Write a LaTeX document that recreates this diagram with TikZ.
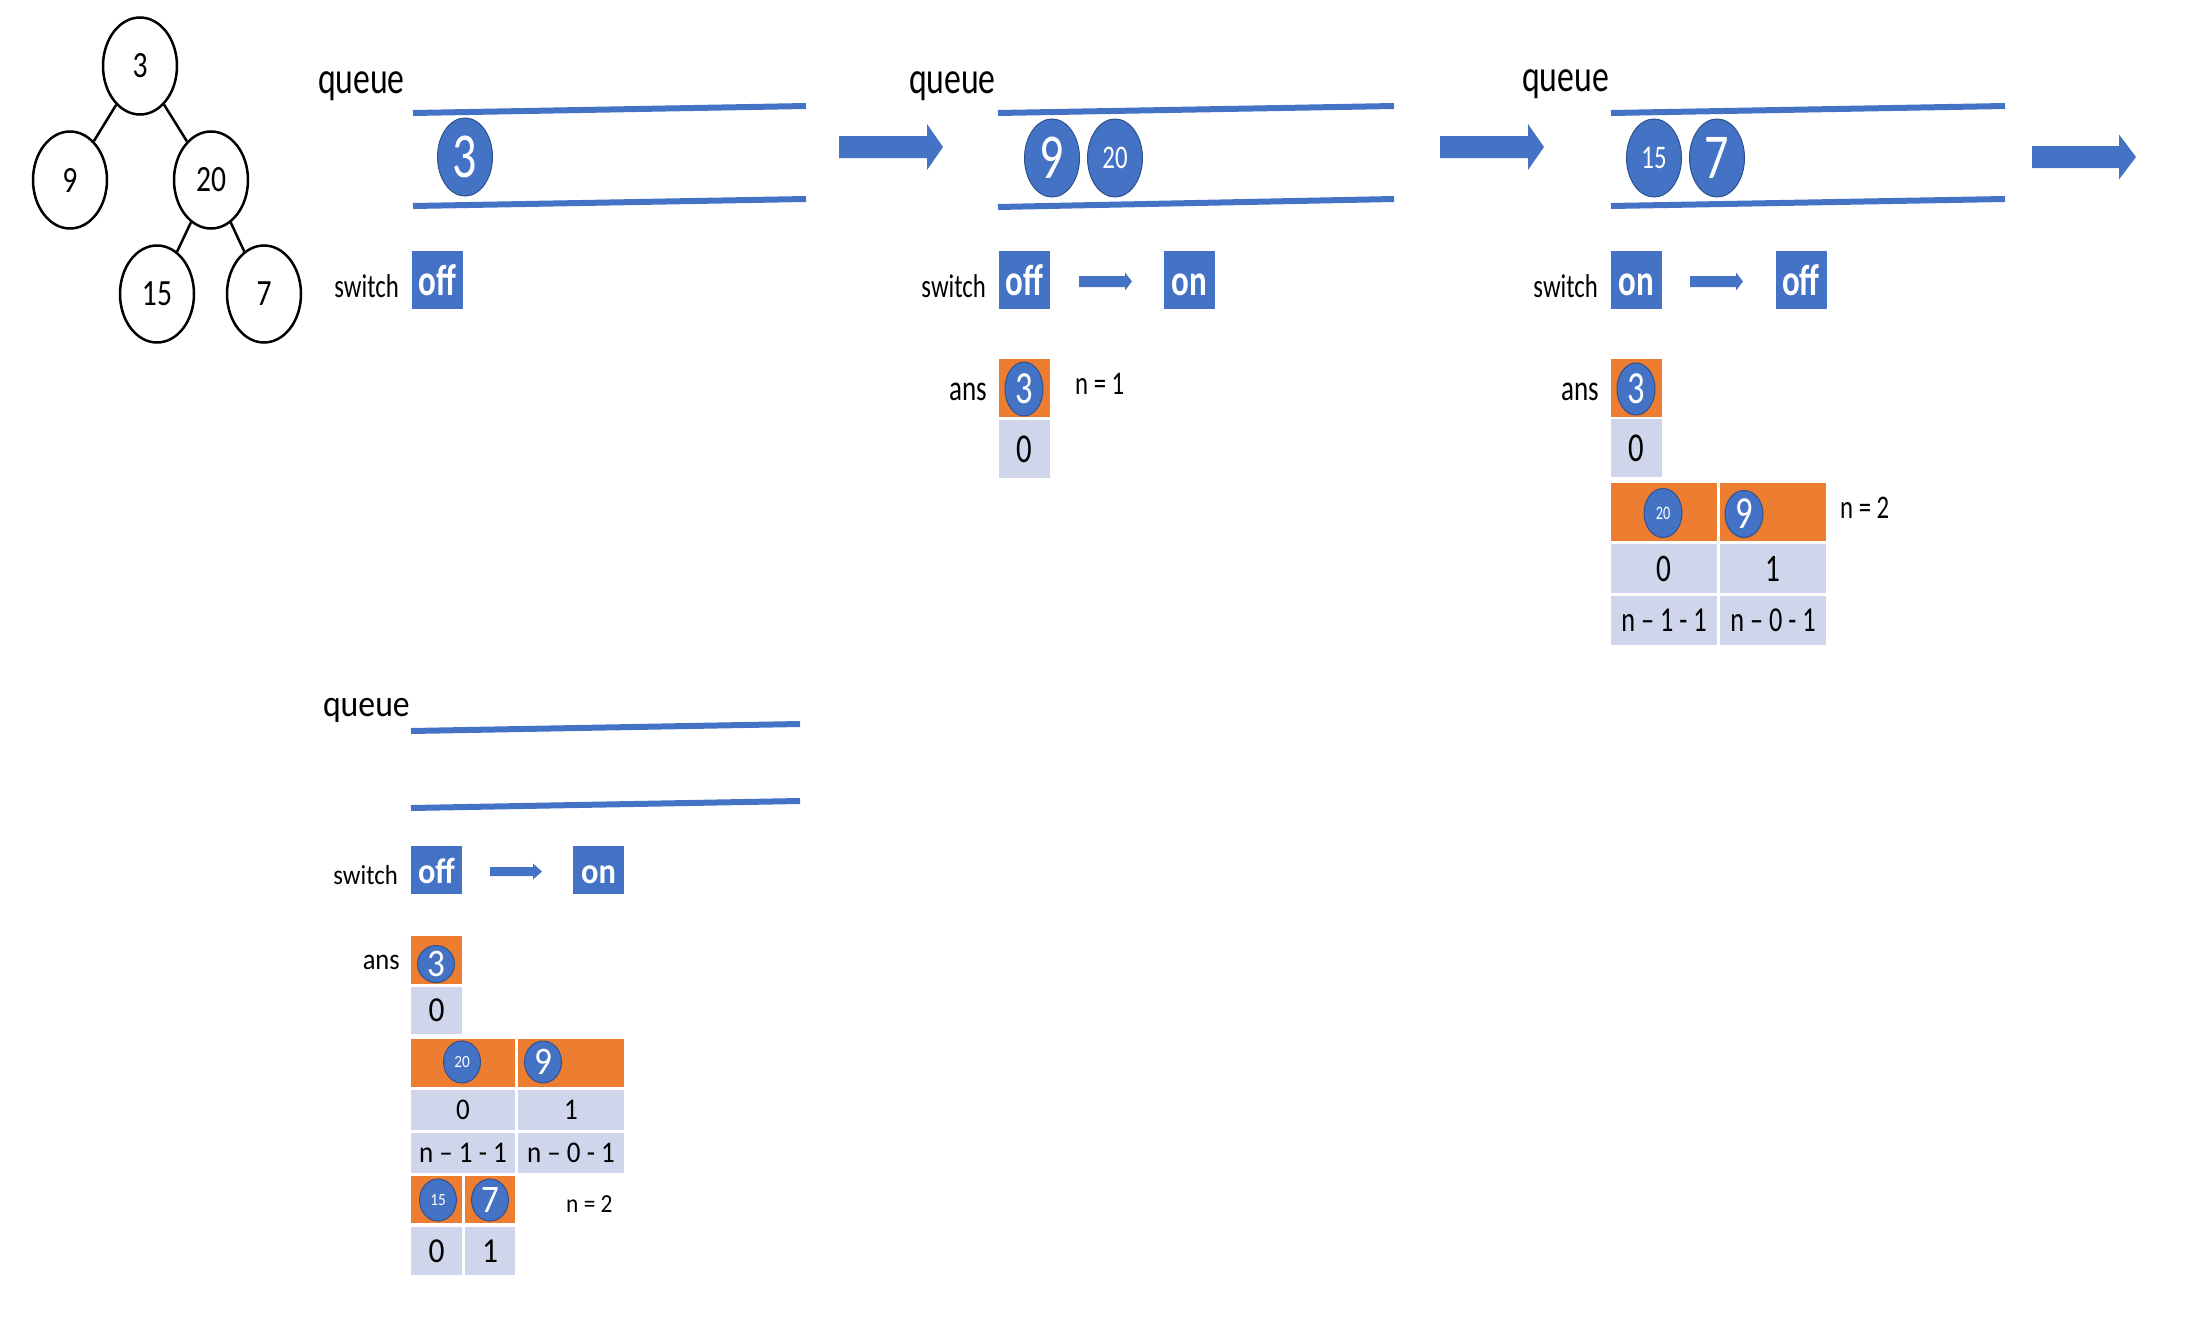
\documentclass[tikz,border=0pt]{standalone}
\usepackage{fontspec}
\setmainfont{Carlito}
\newfontfamily\topfam[FakeStretch=0.75]{Carlito}
\newfontfamily\lowfam[FakeStretch=0.9]{Carlito}
\newfontfamily\treefam[FakeStretch=0.8]{Carlito}
\newcommand\topsz[1]{\topfam\fontsize{#1}{#1}\selectfont}
\newcommand\lowsz[1]{\lowfam\fontsize{#1}{#1}\selectfont}
\usetikzlibrary{shapes.geometric}
\definecolor{qblue}{HTML}{4472C4}
\definecolor{qorange}{HTML}{ED7D31}
\definecolor{qcell}{HTML}{CFD5EA}
\definecolor{qedge}{HTML}{2F528F}
% block arrow: start coordinate, shaft length, shaft half thickness, head length, head half width
\newcommand\fatarrow[5]{%
  \fill[qblue] (#1) ++(0,-#3) -- ++(#2,0) -- ++(0,{-(#5-#3)}) -- ++(#4,#5)
    -- ++(-#4,#5) -- ++(0,{-(#5-#3)}) -- ++(-#2,0) -- cycle;}
\begin{document}
\begin{tikzpicture}[x=1pt, y=-1pt,
  treenode/.style={draw, ellipse, line width=2.5pt, minimum width=74pt, minimum height=97pt, inner sep=0pt, font={\treefam\fontsize{37}{37}\selectfont}},
  treeedge/.style={line width=2.5pt},
  lbl/.style={inner sep=0pt, anchor=base east},
  lblw/.style={inner sep=0pt, anchor=base west},
  qline/.style={draw=qblue, line width=6pt},
  ball/.style={ellipse, fill=qblue, draw=qedge, line width=1pt, text=white, inner sep=0pt},
  swtop/.style={fill=qblue, text=white, inner sep=0pt, minimum width=51pt, minimum height=58pt,
    text height=31pt, text depth=0pt, font={\topsz{44}\bfseries}},
  swlow/.style={fill=qblue, text=white, inner sep=0pt, minimum width=51pt, minimum height=48pt,
    text height=26pt, text depth=0pt, font={\lowsz{36}\bfseries}},
  ocell/.style={fill=qorange, inner sep=0pt},
  gcell/.style={fill=qcell, inner sep=0pt},
]
\useasboundingbox (0,0) rectangle (2192,1330);

% ---------------- binary tree ----------------
\node[treenode] (t3)  at (140,66)  {3};
\node[treenode] (t9)  at (70,180)  {9};
\node[treenode] (t20) at (211,180) {20};
\node[treenode] (t15) at (157,294) {15};
\node[treenode] (t7)  at (264,294) {7};
\draw[treeedge] (t3) -- (t9);
\draw[treeedge] (t3) -- (t20);
\draw[treeedge] (t20) -- (t15);
\draw[treeedge] (t20) -- (t7);

% ---------------- step 1 ----------------
\node[lbl, font={\topsz{45}}] (q1) at (405,93) {queue};
\draw[qline] (413,113) -- (806,106);
\draw[qline] (413,206) -- (806,199);
\node[ball, minimum width=55pt, minimum height=78pt, font={\topsz{64}}] (q1b3) at (465,157) {3};
\node[lbl, font={\topsz{33}}] (s1) at (399,297) {switch};
\node[swtop] (s1off) at (437.5,280) {off};

\coordinate (a1) at (839,147);
\fatarrow{a1}{88}{11}{16}{23}

% ---------------- step 2 ----------------
\node[lbl, font={\topsz{45}}] (q2) at (996,93) {queue};
\draw[qline] (998,113) -- (1394,106);
\draw[qline] (998,207) -- (1394,199);
\node[ball, minimum width=55pt, minimum height=78pt, font={\topsz{64}}] (q2b9) at (1052,158) {9};
\node[ball, minimum width=55pt, minimum height=78pt, font={\topsz{33}}] (q2b20) at (1115,158) {20};
\node[lbl, font={\topsz{33}}] (s2) at (986,297) {switch};
\node[swtop] (s2off) at (1024.5,280) {off};
\node[swtop] (s2on) at (1189,280) {on};
\coordinate (s2a) at (1079,281.5);
\fatarrow{s2a}{46}{5.5}{7}{9}

\node[lbl, font={\topsz{36}}] (ans2) at (987,400) {ans};
\node[ocell, minimum width=51pt, minimum height=58pt] (p2o1) at (1024.5,388) {};
\node[ball, minimum width=38pt, minimum height=54pt, font={\topsz{46}}] (p2b3) at (1024,389) {3};
\node[gcell, minimum width=51pt, minimum height=58pt, font={\topsz{41}}] (p2g1) at (1024.5,449) {0};
\node[lblw, font={\topsz{33}}] (n2) at (1075,394) {n = 1};

\coordinate (a2) at (1440,147);
\fatarrow{a2}{88}{11}{16}{23}

% ---------------- step 3 ----------------
\node[lbl, font={\topsz{45}}] (q3) at (1609,91) {queue};
\draw[qline] (1611,113) -- (2005,106);
\draw[qline] (1611,206) -- (2005,199);
\node[ball, minimum width=55pt, minimum height=78pt, font={\topsz{33}}] (q3b15) at (1654,158) {15};
\node[ball, minimum width=55pt, minimum height=78pt, font={\topsz{64}}] (q3b7) at (1717,158) {7};
\node[lbl, font={\topsz{33}}] (s3) at (1598,297) {switch};
\node[swtop] (s3on) at (1636.5,280) {on};
\node[swtop] (s3off) at (1801,280) {off};
\coordinate (s3a) at (1690,281.5);
\fatarrow{s3a}{46}{5.5}{7}{9}

\node[lbl, font={\topsz{36}}] (ans3) at (1599,400) {ans};
\node[ocell, minimum width=51pt, minimum height=58pt] (p3o1) at (1636.5,388) {};
\node[ball, minimum width=38pt, minimum height=52pt, font={\topsz{46}}] (p3b3) at (1636,389) {3};
\node[gcell, minimum width=51pt, minimum height=58pt, font={\topsz{41}}] (p3g1) at (1636.5,448) {0};
\node[ocell, minimum width=106pt, minimum height=58pt] (p3o2a) at (1664,512) {};
\node[ocell, minimum width=106pt, minimum height=58pt] (p3o2b) at (1773,512) {};
\node[ball, minimum width=38pt, minimum height=49pt, font={\topsz{19}}] (p3b20) at (1663,513) {20};
\node[ball, minimum width=38pt, minimum height=47pt, font={\topsz{46}}] (p3b9) at (1744,514) {9};
\node[gcell, minimum width=106pt, minimum height=49pt, font={\topsz{39}}] (p3g2a) at (1664,568.5) {0};
\node[gcell, minimum width=106pt, minimum height=49pt, font={\topsz{39}}] (p3g2b) at (1773,568.5) {1};
\node[gcell, minimum width=106pt, minimum height=49pt, font={\topsz{35}}] (p3g3a) at (1664,620.5) {n – 1 - 1};
\node[gcell, minimum width=106pt, minimum height=49pt, font={\topsz{35}}] (p3g3b) at (1773,620.5) {n – 0 - 1};
\node[lblw, font={\topsz{33}}] (n3) at (1840,518) {n = 2};

\coordinate (a3) at (2032,157);
\fatarrow{a3}{87}{11}{17}{22.5}

% ---------------- step 4 ----------------
\node[lbl, font={\lowsz{37.5}}] (q4) at (410,716) {queue};
\draw[qline] (411,731) -- (800,724);
\draw[qline] (411,808) -- (800,801);
\node[lbl, font={\lowsz{27.5}}] (s4) at (398,884) {switch};
\node[swlow] (s4off) at (436.5,870) {off};
\node[swlow] (s4on) at (598.5,870) {on};
\coordinate (s4a) at (490,871.5);
\fatarrow{s4a}{43}{4.5}{9}{8}

\node[lbl, font={\lowsz{29.5}}] (ans4) at (400,969) {ans};
\node[ocell, minimum width=51pt, minimum height=48pt] (p4o1) at (436.5,960) {};
\node[ball, minimum width=37pt, minimum height=37pt, font={\lowsz{39}}] (p4b3) at (436,964) {3};
\node[gcell, minimum width=51pt, minimum height=47pt, font={\lowsz{35}}] (p4g1) at (436.5,1010.5) {0};
\node[ocell, minimum width=104pt, minimum height=48pt] (p4o2a) at (463,1063) {};
\node[ocell, minimum width=106pt, minimum height=48pt] (p4o2b) at (571,1063) {};
\node[ball, minimum width=37pt, minimum height=42pt, font={\lowsz{17}}] (p4b20) at (462,1062) {20};
\node[ball, minimum width=37pt, minimum height=42pt, font={\lowsz{39}}] (p4b9) at (543,1062) {9};
\node[gcell, minimum width=104pt, minimum height=40pt, font={\lowsz{30}}] (p4g2a) at (463,1110) {0};
\node[gcell, minimum width=106pt, minimum height=40pt, font={\lowsz{30}}] (p4g2b) at (571,1110) {1};
\node[gcell, minimum width=104pt, minimum height=40pt, font={\lowsz{30}}] (p4g3a) at (463,1153) {n – 1 - 1};
\node[gcell, minimum width=106pt, minimum height=40pt, font={\lowsz{30}}] (p4g3b) at (571,1153) {n – 0 - 1};
\node[ocell, minimum width=51pt, minimum height=47pt] (p4o3a) at (436.5,1199.5) {};
\node[ocell, minimum width=50pt, minimum height=47pt] (p4o3b) at (490,1199.5) {};
\node[ball, minimum width=37pt, minimum height=42pt, font={\lowsz{17}}] (p4b15) at (438,1200) {15};
\node[ball, minimum width=37pt, minimum height=42pt, font={\lowsz{39}}] (p4b7) at (490,1200) {7};
\node[gcell, minimum width=51pt, minimum height=48pt, font={\lowsz{35}}] (p4g4a) at (436.5,1251) {0};
\node[gcell, minimum width=50pt, minimum height=48pt, font={\lowsz{35}}] (p4g4b) at (490,1251) {1};
\node[lblw, font={\lowsz{26}}] (n4) at (566,1212) {n = 2};
\end{tikzpicture}
\end{document}
